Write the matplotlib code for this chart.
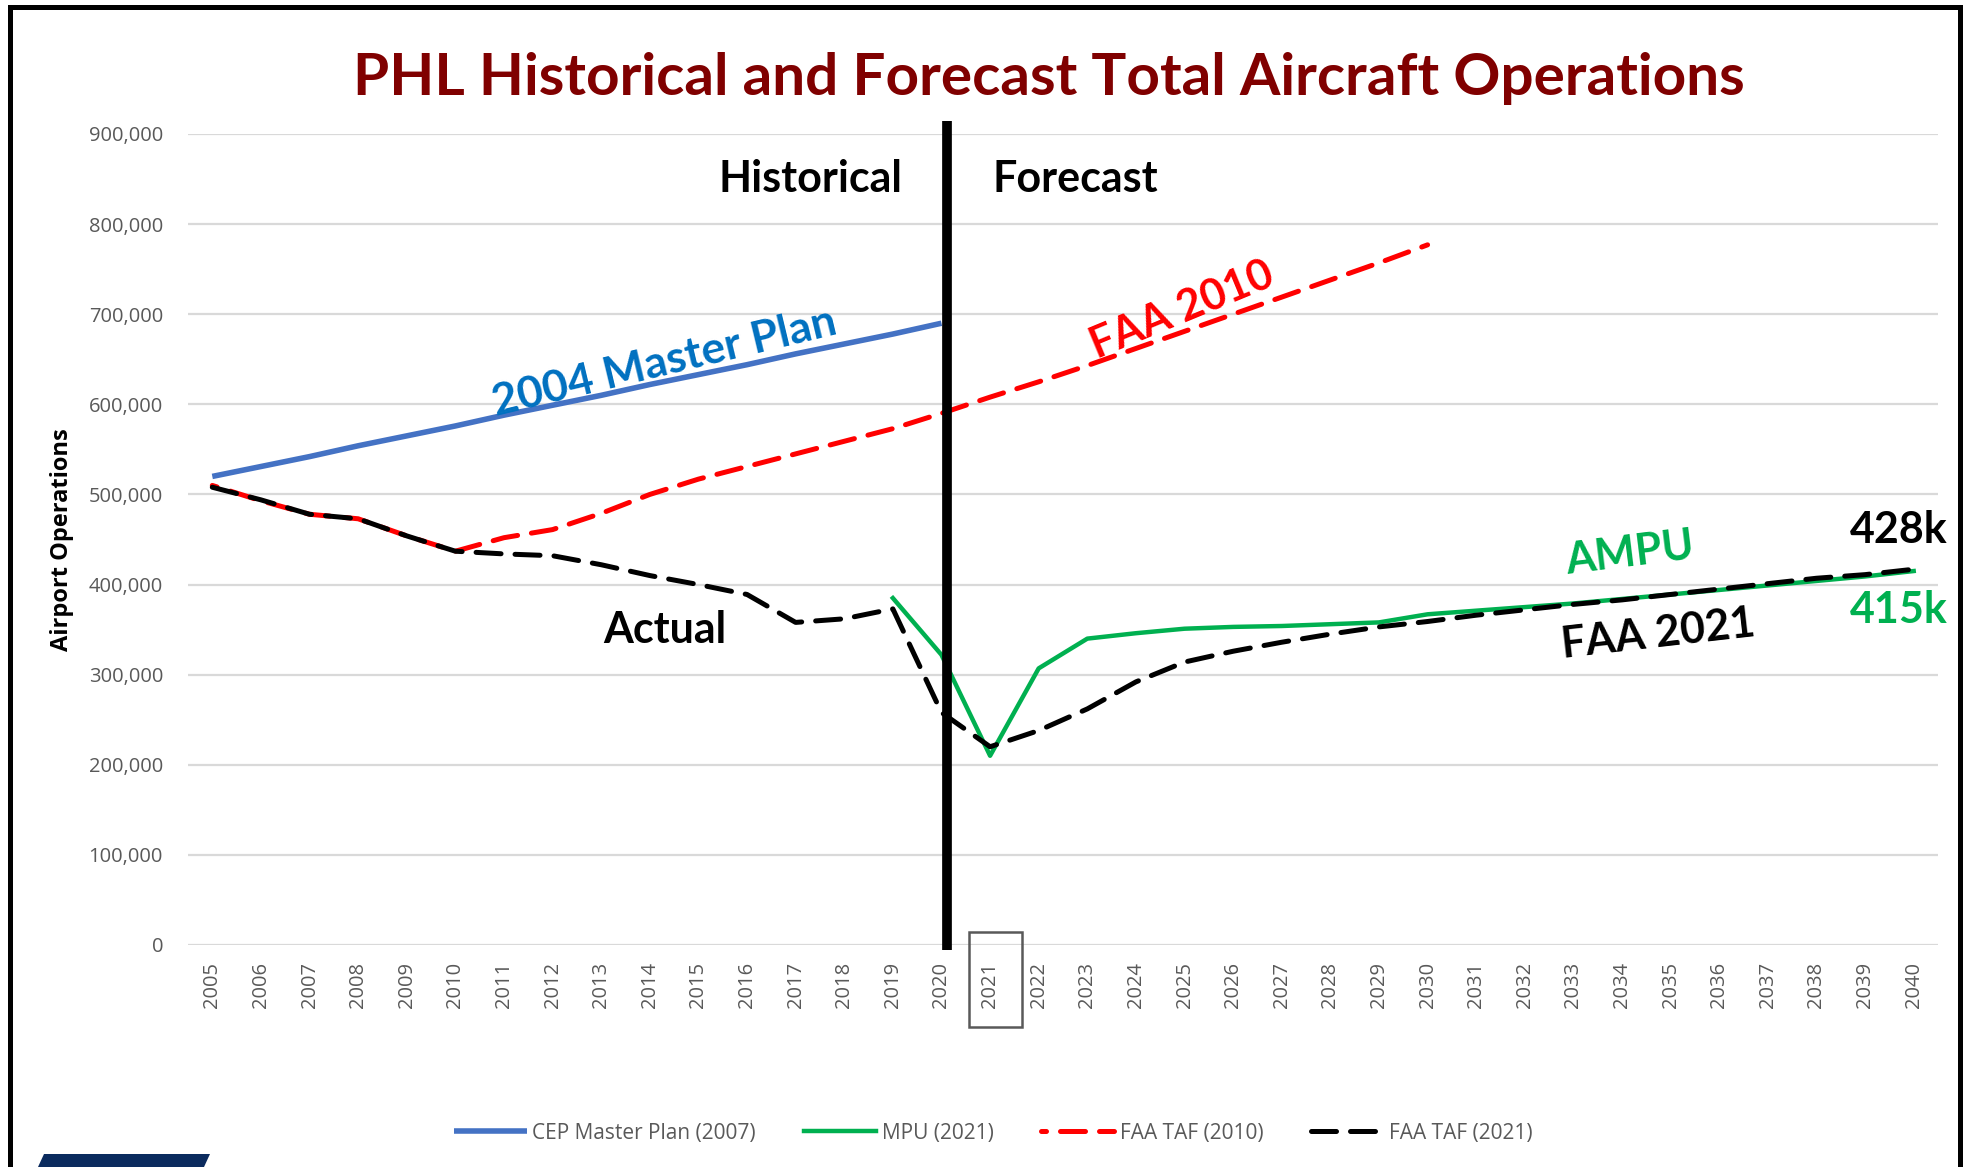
import numpy as np
import matplotlib
matplotlib.use("Agg")
from matplotlib import pyplot as plt
from matplotlib.patches import Rectangle, Polygon
from matplotlib.ticker import FuncFormatter
import matplotlib.transforms as mtransforms

# series
years = list(range(2005, 2041))
cep_years = list(range(2005, 2021))
cep_ops = [520000, 531000, 542000, 554000, 565000, 576000, 588000, 599000,
           610000, 622000, 633000, 644000, 656000, 667000, 678000, 690000]
mpu_years = list(range(2019, 2041))
mpu_ops = [385000, 322000, 210000, 307000, 340000, 346000, 351000, 353000,
           354000, 356000, 358000, 367000, 371000, 375000, 379000, 384000,
           389000, 394000, 399000, 404000, 409000, 415000]
taf10_years = list(range(2005, 2031))
taf10_ops = [510000, 493000, 478000, 473000, 454000, 437000, 452000, 461000,
             479000, 500000, 517000, 531000, 545000, 559000, 573000, 590000,
             608000, 625000, 643000, 662000, 681000, 700000, 719000, 738000,
             757000, 777000]
taf21_ops = [508000, 494000, 478000, 473000, 454000, 437000, 434000, 432000,
             422000, 410000, 400000, 389000, 358000, 362000, 373000, 258000,
             220000, 238000, 262000, 292000, 314000, 326000, 336000, 345000,
             353000, 359000, 366000, 372000, 378000, 383000, 389000, 395000,
             401000, 407000, 411000, 417000]
yticks = [0, 100000, 200000, 300000, 400000, 500000, 600000, 700000, 800000, 900000]
legend_labels = ["CEP Master Plan (2007)", "MPU (2021)", "FAA TAF (2010)", "FAA TAF (2021)"]
split_year = 2020

BLUE = "#4472C4"
GREEN = "#00B050"
RED = "#FF0000"
GREY = "#595959"
TICKFONT = "Open Sans"
CALLOUT = "Lato"

fig = plt.figure(figsize=(19.67, 11.67), dpi=100)
ax = fig.add_axes([188 / 1967, 1 - 945 / 1167, (1938 - 188) / 1967, (945 - 134) / 1167])

for s in ax.spines.values():
    s.set_visible(False)
ax.set_xlim(2004.5, 2040.5)
ax.set_ylim(0, 900000)
ax.set_yticks(yticks)
ax.yaxis.set_major_formatter(FuncFormatter(lambda v, p: f"{int(v):,}"))
ax.set_xticks(years)
ax.set_xticklabels([str(y) for y in years], rotation=90)
ax.tick_params(length=0, colors=GREY, labelsize=14.5)
ax.tick_params(axis="y", pad=18)
ax.tick_params(axis="x", pad=12)
for lab in ax.get_xticklabels() + ax.get_yticklabels():
    lab.set_fontfamily(TICKFONT)
ax.grid(axis="y", color="#D9D9D9", linewidth=1.6)
ax.set_axisbelow(True)

lw = 3.6
l1, = ax.plot(cep_years, cep_ops, color=BLUE, lw=4.0, solid_capstyle="butt", zorder=3)
l2, = ax.plot(mpu_years, mpu_ops, color=GREEN, lw=3.2, zorder=3)
l3, = ax.plot(taf10_years, taf10_ops, color=RED, lw=lw, linestyle=(4, (5, 2.8)),
              dash_capstyle="round", zorder=4)
l4, = ax.plot(years, taf21_ops, color="black", lw=lw, linestyle=(0, (5, 2.8)),
              dash_capstyle="round", zorder=5)

# historical / forecast divider (sits a touch right of the 2020 category)
ax.plot([split_year + 0.12] * 2, [-6000, 914000], color="black", lw=7, clip_on=False,
        zorder=6, solid_capstyle="butt")

# box around the 2021 tick label
tr = mtransforms.blended_transform_factory(ax.transData, ax.transAxes)
ax.add_patch(Rectangle((2020.57, -0.101), 1.08, 0.117, transform=tr, fill=False,
                       edgecolor=GREY, lw=1.8, clip_on=False, zorder=6))

fig.text(0.533, 0.933, "PHL Historical and Forecast Total Aircraft Operations",
         ha="center", va="center", fontsize=42, fontweight="bold", color="#800000",
         family=CALLOUT)
fig.text(62 / 1967, 1 - 540 / 1167, "Airport Operations", rotation=90, ha="center",
         va="center", fontsize=17, fontweight="bold", family=TICKFONT)

def callout(x, y, s, color, rot=0, size=31):
    ax.text(x, y, s, color=color, rotation=rot, ha="center", va="center",
            fontsize=size, fontweight="bold", family=CALLOUT, zorder=7,
            rotation_mode="anchor")

callout(2017.3, 850000, "Historical", "black")
callout(2022.75, 850000, "Forecast", "black")
callout(2014.3, 647000, "2004 Master Plan", "#0070C0", rot=13.5, size=32)
callout(2024.95, 705000, "FAA 2010", RED, rot=22.5)
callout(2014.3, 350000, "Actual", "black")
callout(2034.15, 435000, "AMPU", GREEN, rot=7)
callout(2034.75, 345000, "FAA 2021", "black", rot=6.5)
callout(2039.7, 460000, "428k", "black")
callout(2039.7, 372000, "415k", GREEN)

fig.legend([l1, l2, l3, l4], legend_labels, loc="center", bbox_to_anchor=(0.505, 0.029),
           ncol=4, frameon=False, handlelength=3.5, handletextpad=0.25, columnspacing=2.3,
           prop={"family": TICKFONT, "size": 15}, labelcolor=GREY)

# slide frame and corner shape
fig.patches.append(Rectangle((10 / 1967, -0.05), (1960 - 10) / 1967, 1.047 - 3 / 1167,
                             transform=fig.transFigure, fill=False, edgecolor="black", lw=3.6))
fig.patches.append(Polygon([(38 / 1967, 0), (44 / 1967, 13 / 1167), (210 / 1967, 13 / 1167),
                            (204 / 1967, 0)], closed=True, transform=fig.transFigure,
                           facecolor="#0B2B5E", edgecolor="none"))

fig.savefig("out.png", dpi=100)
